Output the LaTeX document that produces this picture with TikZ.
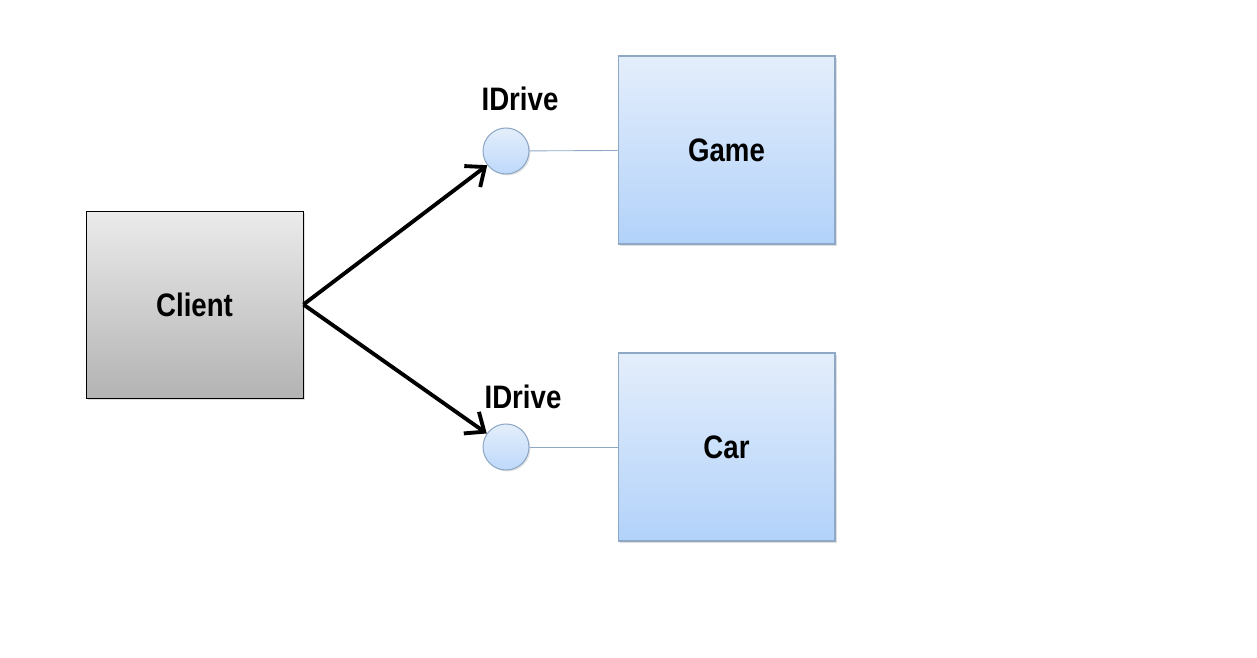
\documentclass[tikz,border=0pt]{standalone}
\usepackage{fontspec}
\setmainfont{Liberation Sans}[FakeStretch=0.85]
\usepackage{tikz}
\usetikzlibrary{arrows.meta}
\usetikzlibrary{shadows}

\definecolor{boxTop}{HTML}{E4EEFB}
\definecolor{boxBot}{HTML}{B2D2FA}
\definecolor{boxLine}{HTML}{8FA8C6}
\definecolor{grayTop}{HTML}{EBEBEB}
\definecolor{grayBot}{HTML}{B3B3B3}

\begin{document}
\begin{tikzpicture}[x=0.02cm,y=-0.02cm,
            class-node/.style={rectangle,draw=boxLine,line width=0.6pt,top color=boxTop,bottom color=boxBot,
                minimum width=4.34cm,minimum height=3.76cm,font=\fontsize{18.5}{22}\selectfont\bfseries,
                drop shadow={opacity=0.25,shadow xshift=1pt,shadow yshift=-1pt}},
            client-node/.style={class-node,draw=black,line width=0.5pt,top color=grayTop,bottom color=grayBot,minimum height=3.74cm},
            port-node/.style={circle,draw=boxLine,line width=0.6pt,top color=boxTop,bottom color=boxBot!85!white,
                minimum size=0.92cm,inner sep=0pt,
                drop shadow={opacity=0.25,shadow xshift=0.8pt,shadow yshift=-0.8pt}},
            port-label/.style={font=\fontsize{18.5}{22}\selectfont\bfseries},
            uses/.style={line width=2.2pt,-{Straight Barb[length=9pt,width=15pt,line width=2.2pt]}},
            realizes/.style={draw=boxLine,line width=0.5pt},
        ]
            \useasboundingbox (0,0) rectangle (1257,658);

            \node[client-node] (client) at (194.5,304.5) {Client};
            \node[class-node] (game) at (726.5,150) {Game};
            \node[class-node] (car) at (726.5,447) {Car};

            \node[port-node] (ig) at (506,151) {};
            \node[port-node] (ic) at (506,447) {};
            \node[port-label] (igl) at (520,99) {IDrive};
            \node[port-label] (icl) at (523,397) {IDrive};

            \draw[realizes] (ig) -- (game);
            \draw[realizes] (ic) -- (car);
            \draw[uses] (client.east) -- (ig);
            \draw[uses] (client.east) -- (ic);
        \end{tikzpicture}
\end{document}
